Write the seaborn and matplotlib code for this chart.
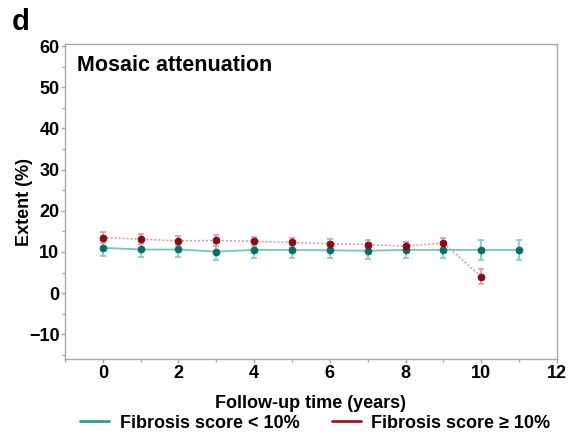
import matplotlib
matplotlib.use("Agg")
import matplotlib.pyplot as plt
import seaborn as sns
import pandas as pd
from matplotlib.lines import Line2D
from matplotlib.ticker import MultipleLocator

sns.set_style("white")
plt.rcParams['font.family'] = ['Liberation Sans', 'DejaVu Sans']
plt.rcParams['font.weight'] = 'bold'
plt.rcParams['text.color'] = 'black'
plt.rcParams['axes.labelcolor'] = 'black'
plt.rcParams['xtick.labelcolor'] = 'black'
plt.rcParams['ytick.labelcolor'] = 'black'

years_low = [0, 1, 2, 3, 4, 5, 6, 7, 8, 9, 10, 11]
mean_low = [11.0, 10.6, 10.6, 10.1, 10.5, 10.5, 10.4, 10.3, 10.5, 10.5, 10.5, 10.5]
err_low = [1.9, 1.9, 1.9, 2.1, 1.9, 1.9, 1.9, 1.9, 1.9, 2.0, 2.4, 2.4]

years_high = [0, 1, 2, 3, 4, 5, 6, 7, 8, 9, 10]
mean_high = [13.5, 13.1, 12.7, 12.8, 12.6, 12.3, 12.0, 11.8, 11.4, 12.2, 4.0]
err_high = [1.3, 1.2, 1.1, 1.3, 1.1, 1.0, 1.1, 1.1, 1.1, 1.2, 1.8]

label_low = "Fibrosis score < 10%"
label_high = "Fibrosis score \u2265 10%"

teal_line = "#78c4bf"
teal_dot = "#00706b"
red_line = "#dc9398"
red_dot = "#8b0a14"

df_low = pd.DataFrame({"year": years_low, "extent": mean_low})
df_high = pd.DataFrame({"year": years_high, "extent": mean_high})

fig = plt.figure(figsize=(5.7, 4.4), dpi=100)
ax = fig.add_axes([0.114, 0.184, 0.863, 0.716])

ax.errorbar(years_low, mean_low, yerr=err_low, fmt='none', ecolor=teal_line,
            elinewidth=1.1, capsize=2.2, capthick=1.1, zorder=2)
ax.errorbar(years_high, mean_high, yerr=err_high, fmt='none', ecolor=red_line,
            elinewidth=1.1, capsize=2.2, capthick=1.1, zorder=2)

sns.lineplot(data=df_low, x="year", y="extent", ax=ax, color=teal_line, lw=1.3,
             marker='o', markersize=4.8, markerfacecolor=teal_dot,
             markeredgecolor=teal_dot, zorder=3)
sns.lineplot(data=df_high, x="year", y="extent", ax=ax, color=red_line, lw=1.1,
             linestyle=(0, (1.3, 1.3)), marker='o', markersize=4.8,
             markerfacecolor=red_dot, markeredgecolor=red_dot, zorder=4)

ax.set_xlim(-1, 12)
ax.set_ylim(-16, 60.5)
ax.xaxis.set_major_locator(MultipleLocator(2))
ax.xaxis.set_minor_locator(MultipleLocator(1))
ax.yaxis.set_major_locator(MultipleLocator(10))
ax.yaxis.set_minor_locator(MultipleLocator(5))
ax.set_yticks([-10, 0, 10, 20, 30, 40, 50, 60])
ax.set_yticklabels(["\u221210", "0", "10", "20", "30", "40", "50", "60"])

for s in ax.spines.values():
    s.set_color("#a8a8a8")
    s.set_linewidth(1.0)
ax.tick_params(axis='both', which='major', direction='out', length=3, width=1,
               color="#a8a8a8", labelsize=13, pad=1, left=True, bottom=True)
ax.tick_params(axis='both', which='minor', direction='out', length=2, width=1,
               color="#a8a8a8", left=True, bottom=True)
for lbl in ax.get_xticklabels() + ax.get_yticklabels():
    lbl.set_fontweight('bold')

ax.set_xlabel("Follow-up time (years)", fontsize=13, fontweight='bold')
ax.set_ylabel("Extent (%)", fontsize=13, fontweight='bold')
ax.xaxis.set_label_coords(0.5, -0.115)
ax.yaxis.set_label_coords(-0.065, 0.5)
ax.text(0.024, 0.965, "Mosaic attenuation", transform=ax.transAxes, fontsize=15.5,
        fontweight='bold', va='top', ha='left')
fig.text(0.02, 0.982, "d", fontsize=21, fontweight='bold', va='top', ha='left')

handles = [Line2D([0], [0], color="#2a9d95", lw=2),
           Line2D([0], [0], color="#9b1b22", lw=2)]
fig.legend(handles, [label_low, label_high], loc='center', ncol=2,
           bbox_to_anchor=(0.553, 0.038), frameon=False,
           prop={'size': 13, 'weight': 'bold'}, handlelength=1.6,
           columnspacing=1.8, handletextpad=0.6, borderaxespad=0, borderpad=0)

fig.savefig("out.png", dpi=100)
